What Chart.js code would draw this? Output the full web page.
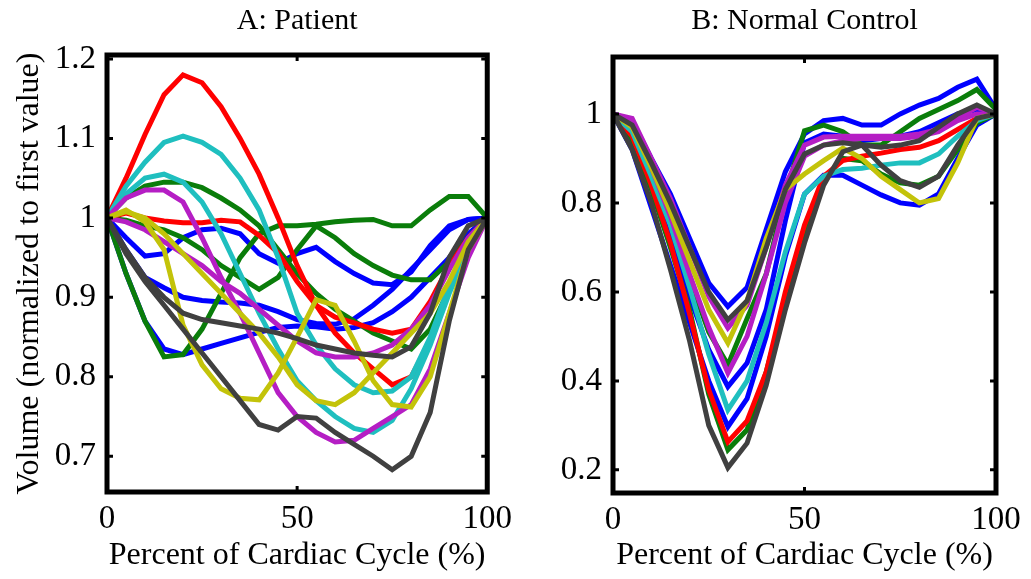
<!DOCTYPE html>
<html>
<head>
<meta charset="utf-8">
<script src="https://cdn.jsdelivr.net/npm/chart.js@4.4.1/dist/chart.umd.min.js"></script>
<style>
  html, body { margin: 0; padding: 0; background: #fff; }
  #wrap { position: relative; width: 1031px; height: 579px; overflow: hidden; }
  #chartA { position: absolute; left: 0; top: 0; }
  #chartB { position: absolute; left: 520px; top: 0; }
</style>
</head>
<body>
<div id="wrap">
  <canvas id="chartA" width="520" height="579"></canvas>
  <canvas id="chartB" width="511" height="579"></canvas>
</div>
<script>
// x axis: percent of cardiac cycle, sampled every 5%
const percent = [0, 5, 10, 15, 20, 25, 30, 35, 40, 45, 50, 55, 60, 65, 70, 75, 80, 85, 90, 95, 100]

const xTicks = [0, 50, 100]
const yTicksA = [0.7, 0.8, 0.9, 1, 1.1, 1.2]
const yTicksB = [0.2, 0.4, 0.6, 0.8, 1]

// ---- A: Patient (volume normalized to first value) ----
const patBlue1   = [1.0, 0.975, 0.952, 0.955, 0.975, 0.985, 0.987, 0.98, 0.955, 0.943, 0.955, 0.963, 0.945, 0.93, 0.918, 0.916, 0.932, 0.965, 0.99, 0.998, 1.0]
const patBlue2   = [1.0, 0.93, 0.87, 0.835, 0.828, 0.835, 0.842, 0.849, 0.856, 0.862, 0.864, 0.863, 0.86, 0.862, 0.868, 0.882, 0.9, 0.925, 0.95, 0.98, 1.0]
const patBlue3   = [1.0, 0.96, 0.925, 0.912, 0.9, 0.896, 0.894, 0.893, 0.89, 0.882, 0.872, 0.867, 0.866, 0.873, 0.89, 0.91, 0.935, 0.96, 0.985, 0.998, 1.0]
const patGreen1  = [1.0, 1.025, 1.04, 1.045, 1.045, 1.038, 1.025, 1.01, 0.99, 0.96, 0.93, 0.905, 0.885, 0.87, 0.855, 0.845, 0.835, 0.86, 0.91, 0.96, 1.0]
const patGreen2  = [1.0, 0.93, 0.87, 0.825, 0.828, 0.86, 0.905, 0.95, 0.98, 0.99, 0.99, 0.992, 0.995, 0.997, 0.998, 0.99, 0.99, 1.01, 1.027, 1.027, 1.0]
const patGreen3  = [1.0, 0.997, 0.99, 0.985, 0.975, 0.96, 0.94, 0.925, 0.91, 0.925, 0.96, 0.99, 0.975, 0.955, 0.94, 0.928, 0.922, 0.922, 0.945, 0.975, 1.0]
const patRed1    = [1.0, 1.05, 1.105, 1.155, 1.18, 1.17, 1.14, 1.1, 1.055, 1.0, 0.94, 0.89, 0.855, 0.83, 0.81, 0.79, 0.8, 0.845, 0.91, 0.965, 1.0]
const patRed2    = [1.0, 1.006, 1.0, 0.996, 0.994, 0.994, 0.997, 0.995, 0.978, 0.956, 0.92, 0.89, 0.875, 0.868, 0.86, 0.855, 0.86, 0.895, 0.94, 0.975, 1.0]
const patCyan1   = [1.0, 1.04, 1.07, 1.095, 1.103, 1.095, 1.08, 1.05, 1.01, 0.95, 0.88, 0.84, 0.81, 0.79, 0.78, 0.782, 0.8, 0.85, 0.915, 0.97, 1.0]
const patCyan2   = [1.0, 1.03, 1.05, 1.055, 1.045, 1.02, 0.98, 0.93, 0.88, 0.835, 0.795, 0.77, 0.75, 0.735, 0.73, 0.745, 0.785, 0.84, 0.905, 0.96, 1.0]
const patMag1    = [1.0, 1.025, 1.035, 1.035, 1.02, 0.975, 0.925, 0.88, 0.83, 0.78, 0.75, 0.73, 0.718, 0.72, 0.735, 0.75, 0.765, 0.81, 0.88, 0.95, 1.0]
const patMag2    = [1.0, 0.995, 0.985, 0.97, 0.955, 0.94, 0.92, 0.905, 0.885, 0.865, 0.845, 0.83, 0.825, 0.825, 0.83, 0.84, 0.86, 0.89, 0.935, 0.975, 1.0]
const patYellow1 = [1.0, 1.01, 0.995, 0.96, 0.865, 0.815, 0.785, 0.773, 0.771, 0.805, 0.85, 0.897, 0.89, 0.845, 0.795, 0.765, 0.762, 0.8, 0.88, 0.96, 1.0]
const patYellow2 = [1.0, 1.008, 1.0, 0.98, 0.955, 0.93, 0.905, 0.88, 0.855, 0.825, 0.79, 0.77, 0.765, 0.78, 0.805, 0.83, 0.855, 0.88, 0.92, 0.97, 1.0]
const patGray1   = [1.0, 0.96, 0.925, 0.9, 0.88, 0.872, 0.868, 0.864, 0.86, 0.855, 0.848, 0.84, 0.835, 0.83, 0.827, 0.825, 0.838, 0.88, 0.95, 0.99, 1.0]
const patGray2   = [1.0, 0.955, 0.92, 0.89, 0.86, 0.83, 0.8, 0.77, 0.74, 0.733, 0.75, 0.748, 0.73, 0.715, 0.7, 0.683, 0.7, 0.755, 0.87, 0.96, 1.0]

// ---- B: Normal Control ----
const ctlBlue1   = [1.0, 0.985, 0.9, 0.82, 0.72, 0.62, 0.567, 0.61, 0.74, 0.87, 0.955, 0.985, 0.99, 0.975, 0.975, 1.0, 1.02, 1.035, 1.06, 1.078, 1.01]
const ctlBlue2   = [1.0, 0.94, 0.84, 0.72, 0.59, 0.47, 0.387, 0.44, 0.56, 0.76, 0.935, 0.955, 0.95, 0.94, 0.945, 0.95, 0.96, 0.98, 1.0, 1.01, 1.0]
const ctlBlue3   = [1.0, 0.92, 0.79, 0.66, 0.53, 0.4, 0.297, 0.36, 0.5, 0.68, 0.82, 0.862, 0.862, 0.84, 0.818, 0.8, 0.795, 0.82, 0.9, 0.975, 1.0]
const ctlGreen1  = [1.0, 0.96, 0.87, 0.76, 0.63, 0.51, 0.436, 0.54, 0.64, 0.82, 0.962, 0.975, 0.96, 0.93, 0.93, 0.96, 0.99, 1.01, 1.03, 1.055, 1.01]
const ctlGreen2  = [1.0, 0.94, 0.83, 0.7, 0.56, 0.37, 0.245, 0.29, 0.42, 0.58, 0.74, 0.85, 0.9, 0.895, 0.865, 0.845, 0.84, 0.86, 0.92, 0.98, 1.0]
const ctlRed     = [1.0, 0.95, 0.84, 0.71, 0.55, 0.38, 0.263, 0.31, 0.42, 0.6, 0.75, 0.86, 0.895, 0.905, 0.912, 0.92, 0.925, 0.94, 0.965, 0.99, 1.0]
const ctlCyan    = [1.0, 0.96, 0.86, 0.75, 0.61, 0.46, 0.335, 0.4, 0.53, 0.69, 0.82, 0.86, 0.875, 0.878, 0.885, 0.89, 0.89, 0.91, 0.95, 0.985, 1.0]
const ctlMag1    = [1.0, 0.99, 0.9, 0.81, 0.7, 0.59, 0.519, 0.57, 0.7, 0.84, 0.93, 0.948, 0.95, 0.95, 0.95, 0.95, 0.955, 0.965, 0.99, 1.015, 1.0]
const ctlMag2    = [1.0, 0.98, 0.88, 0.77, 0.64, 0.52, 0.418, 0.5, 0.64, 0.8, 0.905, 0.93, 0.94, 0.945, 0.945, 0.945, 0.95, 0.96, 0.985, 1.0, 1.0]
const ctlYellow  = [1.0, 0.97, 0.88, 0.78, 0.67, 0.56, 0.485, 0.58, 0.72, 0.83, 0.865, 0.895, 0.923, 0.9, 0.86, 0.83, 0.8, 0.81, 0.89, 0.99, 1.0]
const ctlGray1   = [1.0, 0.975, 0.89, 0.8, 0.7, 0.6, 0.537, 0.58, 0.7, 0.83, 0.91, 0.93, 0.935, 0.93, 0.925, 0.93, 0.94, 0.97, 1.0, 1.02, 1.0]
const ctlGray2   = [1.0, 0.92, 0.8, 0.65, 0.49, 0.3, 0.205, 0.26, 0.39, 0.56, 0.71, 0.84, 0.915, 0.93, 0.885, 0.85, 0.835, 0.86, 0.93, 0.99, 1.0]

// matlab-ish line colours
const col = {
  blue: '#0000ff', green: '#0a7d0a', red: '#ff0000', cyan: '#1fbfbf',
  magenta: '#b51ec4', yellow: '#c3c30a', gray: '#404040'
}

const serif = "'Liberation Serif', 'Times New Roman', serif"

function line(vals, color) {
  return {
    data: vals.map((v, i) => ({ x: percent[i], y: v })),
    borderColor: color,
    borderWidth: 5,
    pointRadius: 0,
    tension: 0,
    fill: false
  }
}

// thick black box + little inward ticks, like the matlab axes
const frame = {
  id: 'frame',
  afterDraw(chart) {
    const { ctx, chartArea: a, scales } = chart
    ctx.save()
    ctx.strokeStyle = '#000'
    ctx.lineWidth = 5
    ctx.strokeRect(a.left, a.top, a.right - a.left, a.bottom - a.top)
    ctx.lineWidth = 3
    ctx.beginPath()
    scales.x.ticks.forEach(t => {
      const px = scales.x.getPixelForValue(t.value)
      ctx.moveTo(px, a.bottom); ctx.lineTo(px, a.bottom - 6)
      ctx.moveTo(px, a.top); ctx.lineTo(px, a.top + 6)
    })
    scales.y.ticks.forEach(t => {
      const py = scales.y.getPixelForValue(t.value)
      ctx.moveTo(a.left, py); ctx.lineTo(a.left + 6, py)
      ctx.moveTo(a.right, py); ctx.lineTo(a.right - 6, py)
    })
    ctx.stroke()
    ctx.restore()
  }
}

function makeOptions(o) {
  return {
    responsive: false,
    animation: false,
    events: [],
    layout: { padding: { left: 0, right: o.padRight, top: 0, bottom: 0 } },
    plugins: {
      legend: { display: false },
      tooltip: { enabled: false },
      title: {
        display: true,
        text: o.title,
        fullSize: false,
        color: '#000',
        font: { family: serif, size: 30, weight: 'normal', lineHeight: 1.2 },
        padding: { top: 3, bottom: o.titleGap }
      }
    },
    scales: {
      x: {
        type: 'linear',
        min: 0,
        max: 100,
        grid: { display: false, drawTicks: false },
        border: { display: false },
        afterBuildTicks: s => { s.ticks = xTicks.map(v => ({ value: v })) },
        afterFit: s => { s.height = o.xHeight },
        ticks: {
          color: '#000',
          padding: 8,
          maxRotation: 0,
          autoSkip: false,
          font: { family: serif, size: 33 },
          callback: v => String(v)
        },
        title: {
          display: true,
          text: 'Percent of Cardiac Cycle (%)',
          color: '#000',
          font: { family: serif, size: 32 },
          padding: { top: 0, bottom: 4 }
        }
      },
      y: {
        min: o.yMin,
        max: o.yMax,
        grid: { display: false, drawTicks: false },
        border: { display: false },
        afterBuildTicks: s => { s.ticks = o.yTicks.map(v => ({ value: v })) },
        afterFit: s => { s.width = o.yWidth },
        ticks: {
          color: '#000',
          padding: 11,
          autoSkip: false,
          font: { family: serif, size: 33 },
          callback: v => String(v)
        },
        title: {
          display: o.yTitle != null,
          text: o.yTitle || '',
          color: '#000',
          font: { family: serif, size: 32 },
          padding: { top: 10, bottom: 0 }
        }
      }
    }
  }
}

new Chart(document.getElementById('chartA').getContext('2d'), {
  type: 'line',
  data: {
    datasets: [
      line(patGray1, col.gray), line(patGray2, col.gray),
      line(patYellow1, col.yellow), line(patYellow2, col.yellow),
      line(patMag1, col.magenta), line(patMag2, col.magenta),
      line(patCyan1, col.cyan), line(patCyan2, col.cyan),
      line(patRed1, col.red), line(patRed2, col.red),
      line(patGreen1, col.green), line(patGreen2, col.green), line(patGreen3, col.green),
      line(patBlue1, col.blue), line(patBlue2, col.blue), line(patBlue3, col.blue)
    ]
  },
  options: makeOptions({
    title: 'A: Patient',
    titleGap: 16,
    padRight: 32,
    xHeight: 87,
    yWidth: 107,
    yMin: 0.655,
    yMax: 1.205,
    yTicks: yTicksA,
    yTitle: 'Volume (normalized to first value)'
  }),
  plugins: [frame]
})

new Chart(document.getElementById('chartB').getContext('2d'), {
  type: 'line',
  data: {
    datasets: [
      line(ctlGray1, col.gray), line(ctlGray2, col.gray),
      line(ctlYellow, col.yellow),
      line(ctlMag1, col.magenta), line(ctlMag2, col.magenta),
      line(ctlCyan, col.cyan),
      line(ctlRed, col.red),
      line(ctlGreen1, col.green), line(ctlGreen2, col.green),
      line(ctlBlue1, col.blue), line(ctlBlue2, col.blue), line(ctlBlue3, col.blue)
    ]
  },
  options: makeOptions({
    title: 'B: Normal Control',
    titleGap: 18,
    padRight: 35,
    xHeight: 86,
    yWidth: 93,
    yMin: 0.148,
    yMax: 1.128,
    yTicks: yTicksB,
    yTitle: null
  }),
  plugins: [frame]
})
</script>
</body>
</html>
